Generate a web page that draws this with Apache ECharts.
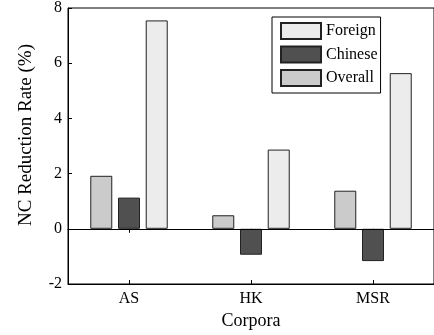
<!DOCTYPE html>
<html>
<head>
<meta charset="utf-8">
<script src="https://cdn.jsdelivr.net/npm/echarts@6/dist/echarts.min.js"></script>
<style>html,body{margin:0;padding:0;background:#fff}#c{width:434px;height:335px}</style>
</head>
<body>
<div id="c"></div>
<script>
var categories = ['AS', 'HK', 'MSR'];
var overall = [1.92, 0.49, 1.38];
var chinese = [1.13, -0.94, -1.17];
var foreign = [7.55, 2.87, 5.64];
var yTicks = [-2, 0, 2, 4, 6, 8];
var legendOrder = ['Foreign', 'Chinese', 'Overall'];

var font = "'Liberation Serif', 'Times New Roman', serif";
var chart = echarts.init(document.getElementById('c'), null, {renderer: 'canvas'});
function bar(name, data, color, withLine) {
  var s = {
    name: name, type: 'bar', data: data, barWidth: 22, barGap: '26%',
    itemStyle: {color: color, borderColor: '#222', borderWidth: 1},
    emphasis: {disabled: true}
  };
  if (withLine) {
    s.markLine = {
      silent: true, symbol: 'none', label: {show: false},
      lineStyle: {color: '#000', type: 'solid', width: 1},
      data: [{yAxis: 0}], animation: false
    };
  }
  return s;
}
chart.setOption({
  animation: false,
  textStyle: {fontFamily: font},
  grid: {left: 68, top: 4.5, bottom: 51, right: -6, show: true, borderColor: '#000', borderWidth: 1, backgroundColor: 'transparent'},
  legend: {
    data: legendOrder, orient: 'vertical', left: 272, top: 17,
    icon: 'rect',
    itemWidth: 40, itemHeight: 16, itemGap: 5.5,
    padding: [5, 3, 6, 8],
    backgroundColor: '#fff', borderColor: '#000', borderWidth: 1,
    textStyle: {fontFamily: font, fontSize: 16, color: '#000'},
    selectedMode: false
  },
  xAxis: [{
    type: 'category', data: categories, position: 'bottom',
    name: 'Corpora', nameLocation: 'middle', nameGap: 26,
    nameTextStyle: {fontFamily: font, fontSize: 18, color: '#000'},
    axisLine: {onZero: false, lineStyle: {color: '#000', width: 1}},
    axisTick: {show: true, inside: true, alignWithLabel: true, length: 4, lineStyle: {color: '#000'}},
    axisLabel: {fontFamily: font, fontSize: 16, color: '#000', margin: 7},
    splitLine: {show: false}
  }, {
    type: 'category', data: categories, position: 'top',
    axisLine: {show: true, lineStyle: {color: '#000'}},
    axisTick: {show: true, inside: true, alignWithLabel: true, length: 4, lineStyle: {color: '#000'}},
    axisLabel: {show: false}, splitLine: {show: false}
  }],
  yAxis: {
    type: 'value', min: yTicks[0], max: yTicks[yTicks.length - 1], interval: 2,
    name: 'NC Reduction Rate (%)', nameLocation: 'middle', nameGap: 32,
    nameTextStyle: {fontFamily: font, fontSize: 19, color: '#000', padding: [0, 0, 0, 22]},
    axisLine: {show: true, lineStyle: {color: '#000', width: 1}},
    axisTick: {show: true, inside: true, length: 4, lineStyle: {color: '#000'}},
    axisLabel: {fontFamily: font, fontSize: 16, color: '#000', margin: 6},
    splitLine: {show: false}
  },
  series: [
    bar('Overall', overall, '#cbcbcb', true),
    bar('Chinese', chinese, '#505050', false),
    bar('Foreign', foreign, '#ececec', false)
  ]
});
</script>
</body>
</html>
